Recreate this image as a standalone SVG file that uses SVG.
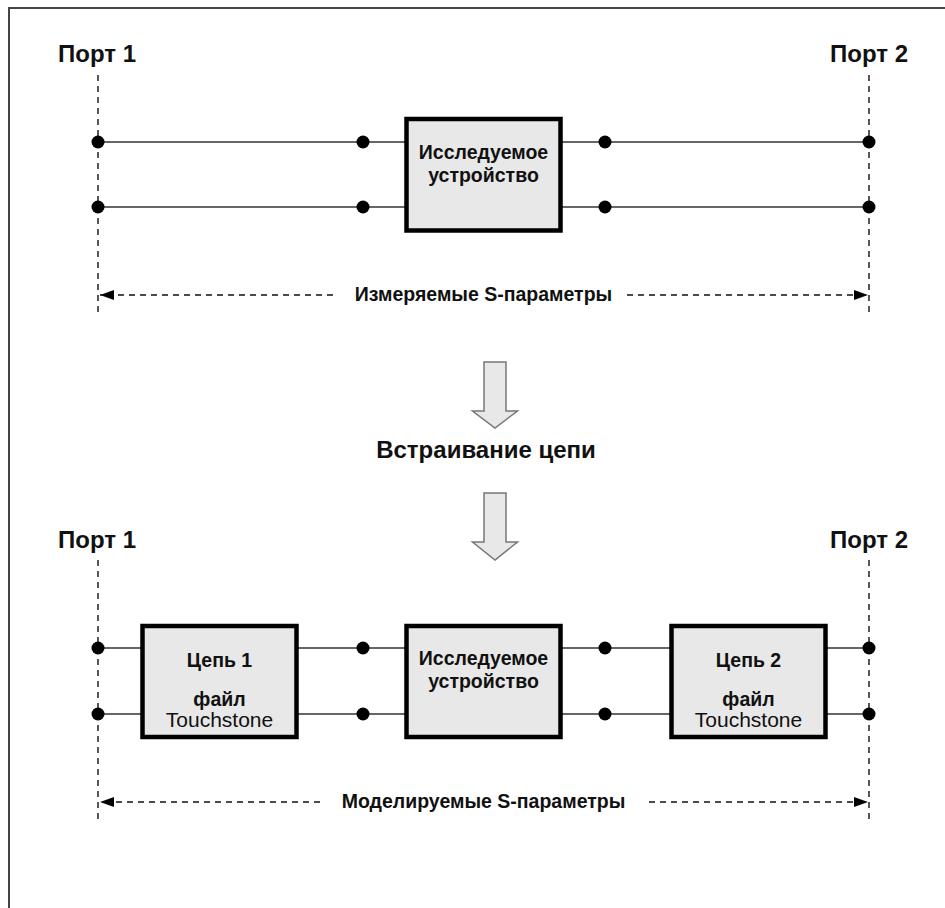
<svg xmlns="http://www.w3.org/2000/svg" width="945" height="908" viewBox="0 0 945 908">
<style>
  .bg { fill: #ffffff; }
  .frame { fill: none; stroke: #444; stroke-width: 2; }
  .port { font-family: "Liberation Sans", Arial, sans-serif; font-weight: bold; font-size: 24px; fill: #111; }
  .lbl { font-family: "Liberation Sans", Arial, sans-serif; font-weight: bold; font-size: 19.5px; fill: #111; text-anchor: middle; }
  .big { font-family: "Liberation Sans", Arial, sans-serif; font-weight: bold; font-size: 24px; fill: #111; text-anchor: middle; }
  .reg { font-family: "Liberation Sans", Arial, sans-serif; font-weight: normal; font-size: 21px; fill: #111; text-anchor: middle; }
  .vdash { stroke: #111; stroke-width: 1.4; stroke-dasharray: 6 5; fill: none; }
  .hdash { stroke: #111; stroke-width: 1.4; stroke-dasharray: 6 5; fill: none; }
  .wire { stroke: #666; stroke-width: 1.8; fill: none; }
  .dot { fill: #000; }
  .box { fill: #e8e8e8; stroke: #000; stroke-width: 4.5; }
  .bigarrow { fill: #e8e8e8; stroke: #777; stroke-width: 1.5; }
</style>
<defs>
  <marker id="ah" viewBox="0 0 14 10" refX="14" refY="5" markerWidth="14" markerHeight="10" markerUnits="userSpaceOnUse" orient="auto-start-reverse">
    <path d="M0,0 L14,5 L0,10 Z" fill="#000"/>
  </marker>
</defs>
<rect class="bg" x="0" y="0" width="945" height="908"/>
<rect class="frame" x="9" y="8" width="1000" height="1000"/>

<!-- Top section -->
<g id="port1-top">
  <text class="port" x="58" y="62">Порт 1</text>
  <line class="vdash" x1="98" y1="75" x2="98" y2="313"/>
</g>
<g id="port2-top">
  <text class="port" x="830" y="62">Порт 2</text>
  <line class="vdash" x1="869" y1="75" x2="869" y2="313"/>
</g>

<g id="connectors-top">
  <line class="wire" x1="98" y1="142" x2="406" y2="142"/>
  <line class="wire" x1="98" y1="207" x2="406" y2="207"/>
  <line class="wire" x1="561" y1="142" x2="869" y2="142"/>
  <line class="wire" x1="561" y1="207" x2="869" y2="207"/>
  <circle class="dot" cx="98" cy="142" r="6.5"/>
  <circle class="dot" cx="98" cy="207" r="6.5"/>
  <circle class="dot" cx="363" cy="142" r="6.5"/>
  <circle class="dot" cx="363" cy="207" r="6.5"/>
  <circle class="dot" cx="605" cy="142" r="6.5"/>
  <circle class="dot" cx="605" cy="207" r="6.5"/>
  <circle class="dot" cx="869" cy="142" r="6.5"/>
  <circle class="dot" cx="869" cy="207" r="6.5"/>
  <line class="hdash" x1="333" y1="295" x2="100" y2="295" marker-end="url(#ah)"/>
  <line class="hdash" x1="627" y1="295" x2="868" y2="295" marker-end="url(#ah)"/>
</g>

<g id="dut-top">
  <rect class="box" x="406.5" y="119" width="154" height="111.5"/>
  <text class="lbl" x="483.5" y="159">Исследуемое</text>
  <text class="lbl" x="483.5" y="181.5">устройство</text>
</g>

<g id="label-measured">
  <text class="lbl" x="483.5" y="301">Измеряемые S-параметры</text>
</g>

<!-- Middle -->
<g id="arrow1">
  <path class="bigarrow" d="M484,362 L506,362 L506,411 L517.5,411 L495,428 L472.5,411 L484,411 Z"/>
</g>
<g id="embedding-label">
  <text class="big" x="486" y="458">Встраивание цепи</text>
</g>
<g id="arrow2">
  <path class="bigarrow" d="M484,493 L506,493 L506,542 L517.5,542 L495,560 L472.5,542 L484,542 Z"/>
</g>

<!-- Bottom section -->
<g id="port1-bottom">
  <text class="port" x="58" y="548">Порт 1</text>
  <line class="vdash" x1="98" y1="560" x2="98" y2="823"/>
</g>
<g id="port2-bottom">
  <text class="port" x="830" y="548">Порт 2</text>
  <line class="vdash" x1="869" y1="560" x2="869" y2="823"/>
</g>

<g id="connectors-bottom">
  <line class="wire" x1="98" y1="648" x2="142" y2="648"/>
  <line class="wire" x1="98" y1="714" x2="142" y2="714"/>
  <line class="wire" x1="297" y1="648" x2="406" y2="648"/>
  <line class="wire" x1="297" y1="714" x2="406" y2="714"/>
  <line class="wire" x1="561" y1="648" x2="671" y2="648"/>
  <line class="wire" x1="561" y1="714" x2="671" y2="714"/>
  <line class="wire" x1="826" y1="648" x2="869" y2="648"/>
  <line class="wire" x1="826" y1="714" x2="869" y2="714"/>
  <circle class="dot" cx="98" cy="648" r="6.5"/>
  <circle class="dot" cx="98" cy="714" r="6.5"/>
  <circle class="dot" cx="363" cy="648" r="6.5"/>
  <circle class="dot" cx="363" cy="714" r="6.5"/>
  <circle class="dot" cx="605" cy="648" r="6.5"/>
  <circle class="dot" cx="605" cy="714" r="6.5"/>
  <circle class="dot" cx="869" cy="648" r="6.5"/>
  <circle class="dot" cx="869" cy="714" r="6.5"/>
  <line class="hdash" x1="320" y1="802" x2="100" y2="802" marker-end="url(#ah)"/>
  <line class="hdash" x1="649" y1="802" x2="868" y2="802" marker-end="url(#ah)"/>
</g>

<g id="circuit1">
  <rect class="box" x="142.5" y="626" width="154" height="111"/>
  <text class="lbl" x="219.5" y="667">Цепь 1</text>
  <text class="lbl" x="219.5" y="706">файл</text>
  <text class="reg" x="219.5" y="727">Touchstone</text>
</g>
<g id="dut-bottom">
  <rect class="box" x="406.5" y="626" width="154" height="111"/>
  <text class="lbl" x="483.5" y="665">Исследуемое</text>
  <text class="lbl" x="483.5" y="687.5">устройство</text>
</g>
<g id="circuit2">
  <rect class="box" x="671.5" y="626" width="154" height="111"/>
  <text class="lbl" x="748.5" y="667">Цепь 2</text>
  <text class="lbl" x="748.5" y="706">файл</text>
  <text class="reg" x="748.5" y="727">Touchstone</text>
</g>

<g id="label-modeled">
  <text class="lbl" x="483.5" y="808">Моделируемые S-параметры</text>
</g>
</svg>
